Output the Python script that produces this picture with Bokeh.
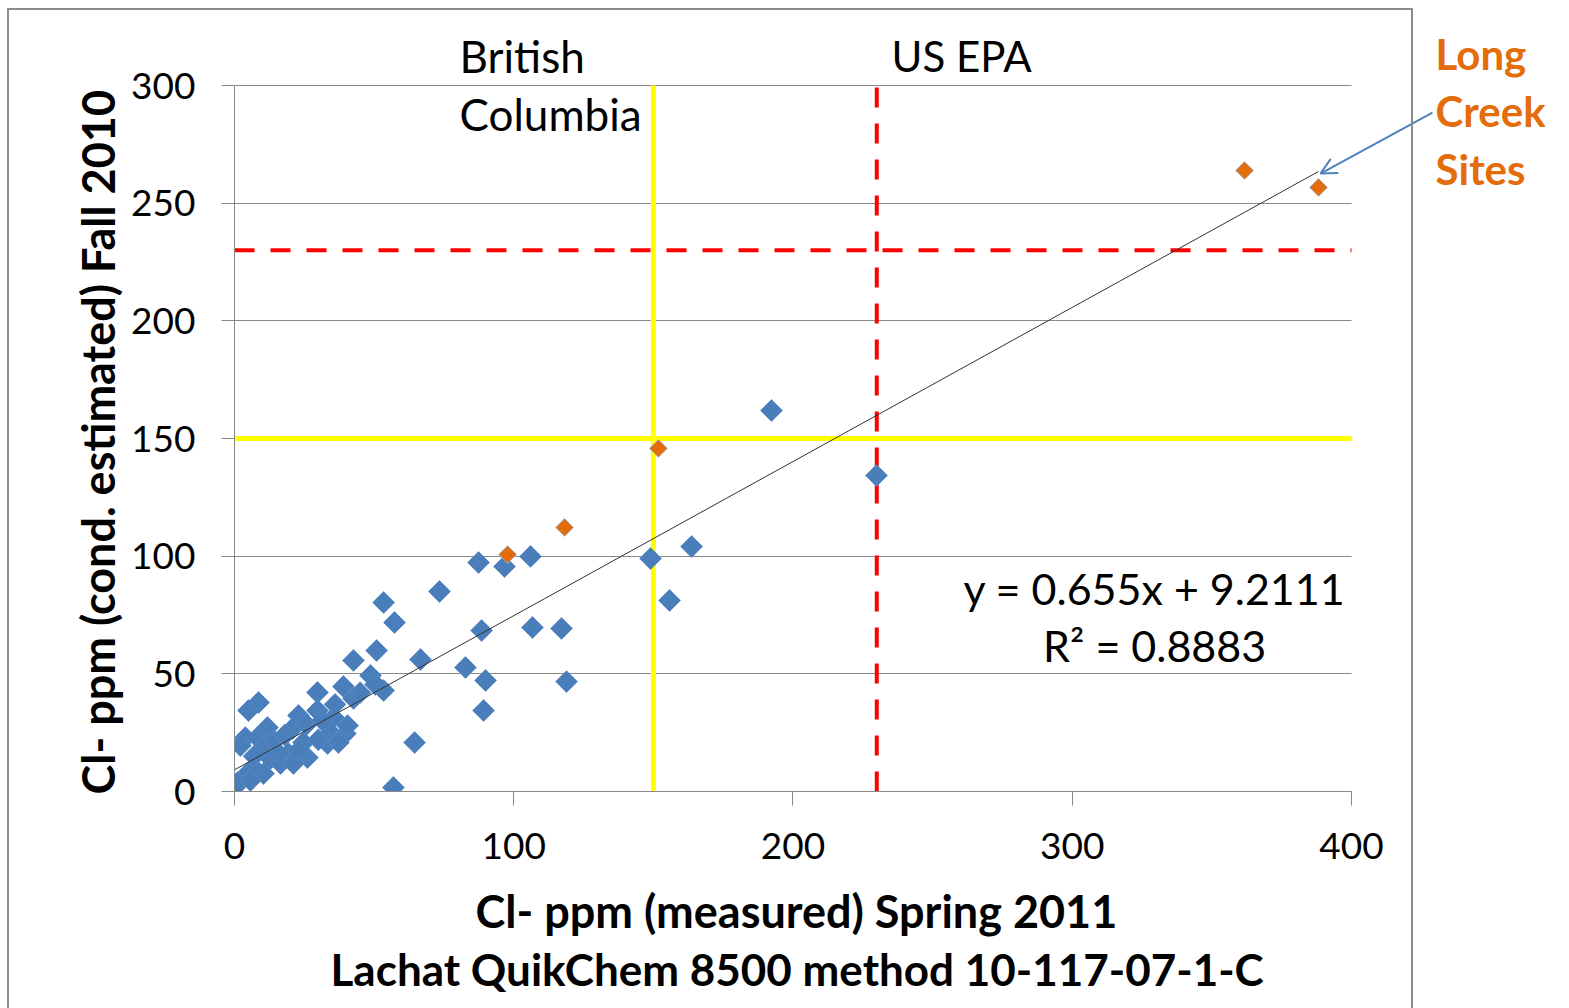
from bokeh.plotting import figure
from bokeh.models import (Range1d, Label, Arrow, OpenHead, FixedTicker, InlineStyleSheet, Title)
from bokeh.embed import file_html
from bokeh.resources import INLINE
import numpy as np

# ---------------- data ----------------
blue_x = [192.3, 229.9, 163.7, 149.0, 155.8, 106.0, 96.7, 87.4, 106.7, 117.1, 118.9,
          89.9, 88.5, 89.2, 82.7, 73.4, 66.6, 64.5, 56.9, 53.4, 57.3, 50.9, 42.6,
          48.7, 39.0, 29.7, 53.4, 50.5, 42.6, 8.6, 5.0, 22.9, 29.7, 35.5, 11.8, 20.8,
          3.9, 8.2, 34.4, 39.7, 2.1, 10.4, 33.3, 37.2, 24.7, 19.3, 26.1, 12.9, 16.5,
          21.1, 6.8, 10.4, 3.9, 1.1, 0.0, 5.7, 25.8, 31.5, 14.3, 18.0, 7.0, 40.5,
          30.0, 23.0, 16.0, 36.0, 45.0]
blue_y = [161.9, 134.3, 104.1, 99.0, 81.2, 99.9, 95.6, 97.3, 69.7, 69.3, 46.7,
          47.2, 68.4, 34.4, 52.7, 85.0, 56.1, 20.8, 1.7, 80.3, 71.8, 59.9, 55.7,
          49.3, 44.6, 42.1, 42.9, 45.5, 39.5, 37.8, 34.4, 32.3, 34.4, 31.4, 27.2, 26.8,
          22.9, 22.9, 25.1, 24.6, 19.5, 18.7, 20.4, 20.8, 20.8, 16.1, 14.4, 14.0, 11.9,
          11.9, 10.2, 7.6, 6.8, 3.8, 1.7, 4.7, 28.5, 30.2, 21.5, 24.0, 15.0, 28.0,
          22.0, 17.5, 16.0, 37.0, 42.0]

orange_x = [361.7, 388.2, 151.8, 118.2, 97.8]
orange_y = [263.9, 256.7, 145.8, 112.2, 100.7]

trend_slope = 0.655
trend_intercept = 9.2111
r_squared = 0.8883

bc_limit = 150      # British Columbia guideline
epa_limit = 230     # US EPA guideline

x_ticks = [0, 100, 200, 300, 400]
y_ticks = [0, 50, 100, 150, 200, 250, 300]
x_axis_max = 400
y_axis_max = 300

x_title_lines = ["Cl- ppm (measured) Spring 2011",
                 "Lachat QuikChem 8500 method  10-117-07-1-C"]
y_title = "Cl- ppm (cond. estimated) Fall 2010"

FONT = "Lato"
BLUE = "#4A7EBB"
ORANGE = "#E46C0A"
GRID = "#898989"

border_css = InlineStyleSheet(css="""
:host { position: relative; }
:host::after {
  content: ""; position: absolute; left: 7px; top: 8px; width: 1406px; height: 1100px;
  border: 2px solid #8C8C8C; box-sizing: border-box; pointer-events: none;
}
""")

# The frame extends to the right and top edges of the page so that the side
# annotations can be placed in data space; the axes are bounded to 0..400 / 0..300.
p = figure(width=1569, height=1008, x_range=Range1d(0, 478.07), y_range=Range1d(0, 336.13),
           output_backend="svg", toolbar_location=None,
           min_border_left=234, min_border_right=0, min_border_top=0, min_border_bottom=217,
           stylesheets=[border_css])
p.outline_line_color = None
p.background_fill_color = "white"
p.border_fill_color = "white"

# axes
for ax in (p.xaxis[0], p.yaxis[0]):
    ax.axis_line_color = GRID
    ax.major_tick_line_color = GRID
    ax.minor_tick_line_color = None
    ax.major_tick_in = 0
    ax.major_label_text_font = FONT
    ax.major_label_text_font_size = "37px"
    ax.major_label_text_color = "black"

p.xaxis.bounds = (0, x_axis_max)
p.yaxis.bounds = (0, y_axis_max)
p.xaxis.ticker = FixedTicker(ticks=x_ticks)
p.yaxis.ticker = FixedTicker(ticks=y_ticks)
p.xaxis.major_tick_out = 14
p.yaxis.major_tick_out = 13
p.xaxis.major_label_standoff = 27
p.yaxis.major_label_standoff = 26

# axis titles (as titles so they can be placed on the 0..400 / 0..300 part of the axes)
p.add_layout(Title(text=x_title_lines[0], align="left", offset=241,
                   text_font=FONT, text_font_size="45px", text_font_style="bold",
                   text_color="black", standoff=40), "below")
p.add_layout(Title(text=x_title_lines[1], align="left", offset=96,
                   text_font=FONT, text_font_size="44px", text_font_style="bold",
                   text_color="black", standoff=-34), "below")
p.add_layout(Title(text=y_title, align="left", offset=-3,
                   text_font=FONT, text_font_size="45px", text_font_style="bold",
                   text_color="black", standoff=8), "left")

p.xgrid.grid_line_color = None
p.ygrid.grid_line_color = GRID
p.ygrid.grid_line_width = 1
p.ygrid.bounds = (0, y_axis_max)
p.ygrid.ticker = FixedTicker(ticks=y_ticks)
p.ygrid[0].cross_bounds = (0, x_axis_max)

# guideline lines
p.segment(x0=[bc_limit], y0=[0], x1=[bc_limit], y1=[y_axis_max], line_color="#FFFF00", line_width=5)
p.segment(x0=[0], y0=[bc_limit], x1=[x_axis_max], y1=[bc_limit], line_color="#FFFF00", line_width=5)
p.segment(x0=[epa_limit], y0=[0], x1=[epa_limit], y1=[y_axis_max], line_color="#FF0000",
          line_width=4, line_dash="20 16")
p.segment(x0=[0], y0=[epa_limit], x1=[x_axis_max], y1=[epa_limit], line_color="#FF0000",
          line_width=4, line_dash="20 16")

# points
p.scatter(blue_x, blue_y, marker="square", angle=np.pi / 4, size=15.5,
          fill_color=BLUE, line_color="#5B8CC6", line_width=0.8)
p.scatter(orange_x, orange_y, marker="square", angle=np.pi / 4, size=12.5,
          fill_color=ORANGE, line_color="#9DB3CF", line_width=1)

# trend line
all_x = blue_x + orange_x
tx = [min(all_x), max(all_x)]
ty = [trend_slope * v + trend_intercept for v in tx]
p.line(tx, ty, line_color="#333333", line_width=1)

# labels
def lab(x, y, text, size, color="black", align="left", style="normal"):
    p.add_layout(Label(x=x, y=y, text=text, text_font=FONT, text_font_size=size,
                       text_color=color, text_align=align, text_baseline="middle",
                       text_font_style=style))

lab(80.6, 312.7, "British", "44px")
lab(80.6, 288.1, "Columbia", "44px")
lab(235.3, 312.7, "US EPA", "42px")
lab(329.5, 86.3, f"y = {trend_slope}x + {trend_intercept}", "43px", align="center")
lab(329.5, 62.0, f"R² = {r_squared}", "43px", align="center")
lab(430.1, 313.5, "Long", "42px", color=ORANGE, style="bold")
lab(430.1, 289.0, "Creek", "42px", color=ORANGE, style="bold")
lab(430.1, 264.4, "Sites", "42px", color=ORANGE, style="bold")

p.add_layout(Arrow(x_start=429.0, y_start=288.5, x_end=388.9, y_end=262.6,
                   line_color="#4F81BD", line_width=2,
                   end=OpenHead(size=16, line_color="#4F81BD", line_width=2)))

open("out.html", "w").write(file_html(p, INLINE))
